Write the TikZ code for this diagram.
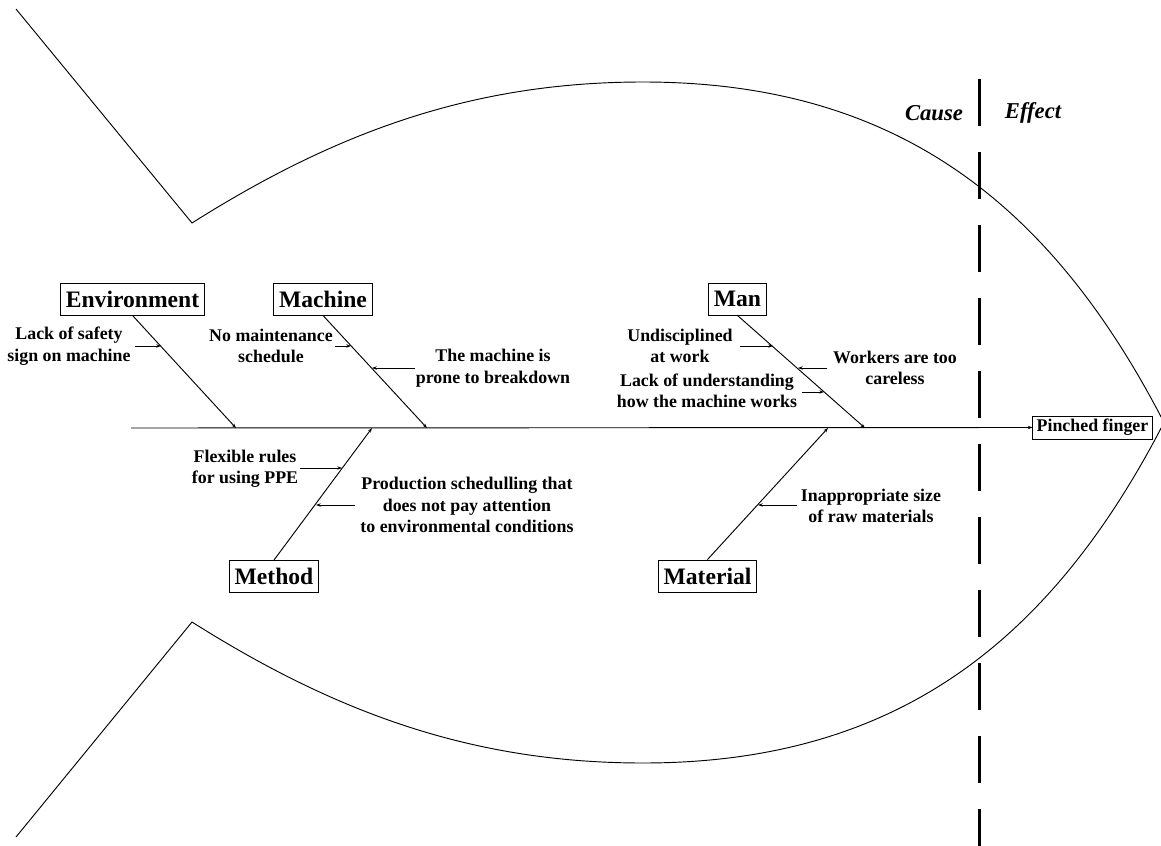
\documentclass[tikz,border=0pt]{standalone}
\usepackage{fontspec}
\setmainfont{Liberation Serif}
\usepackage{tikz}
\usetikzlibrary{arrows.meta}

\tikzset{
  bonebox/.style={draw,line width=0.7pt,font=\fontsize{17.7}{21}\selectfont\bfseries,inner xsep=4pt,inner ysep=0pt,minimum height=24pt},
  causetext/.style={align=center,inner sep=0pt,font=\fontsize{13.4}{16.1}\selectfont\bfseries},
  tick/.style={-{Stealth[length=3.5pt,width=2.5pt]}},
}

\begin{document}
\begin{tikzpicture}[x=0.75pt,y=-0.75pt,line width=0.7pt]
\path[use as bounding box] (0,0) rectangle (1161,846);
\coordinate (tailTop) at (16,9);
\coordinate (finTop) at (192,223);
\coordinate (fishTop) at (643,82);
\coordinate (nose) at (1164,422.5);
\coordinate (fishBot) at (643,763);
\coordinate (finBot) at (192,622);
\coordinate (tailBot) at (16,837);
\draw (tailTop) -- (finTop) .. controls (336,132) and (473,82) .. (fishTop) .. controls (893,82) and (1049,199.5) .. (nose);
\draw (tailBot) -- (finBot) .. controls (336,713) and (473,763) .. (fishBot) .. controls (893,763) and (1049,645.5) .. (nose);
\coordinate (divTop) at (979,79);
\coordinate (divBot) at (979,846);
\draw[line width=2.25pt,dash pattern=on 35.25pt off 19.5pt] (divTop) -- (divBot);
\node[font=\fontsize{17}{20}\selectfont\bfseries\itshape] (causeLbl) at (934,113) {Cause};
\node[font=\fontsize{17}{20}\selectfont\bfseries\itshape] (effectLbl) at (1033,113) {Effect};
\node[bonebox,font=\fontsize{13.4}{16}\selectfont\bfseries,inner xsep=2.8pt,minimum height=17.25pt] (effect) at (1092.5,427.5) {Pinched finger};
\coordinate (spineL) at (131,428);
\draw[tick] (spineL) -- (effect.west);
\node[bonebox] (env) at (132.5,299) {Environment};
\node[bonebox] (mach) at (323,299) {Machine};
\node[bonebox] (man) at (737.5,299) {Man};
\node[bonebox] (meth) at (274,576.5) {Method};
\node[bonebox] (mat) at (707.5,576) {Material};
\coordinate (envS) at (236,428);
\coordinate (machS) at (427,428);
\coordinate (manS) at (865,428);
\coordinate (methS) at (372,428);
\coordinate (matS) at (828,428);
\draw[tick] (env.south) -- (envS);
\draw[tick] (mach.south) -- (machS);
\draw[tick] (man.south) -- (manS);
\draw[tick] (meth.north) -- (methS);
\draw[tick] (mat.north) -- (matS);
\node[causetext] (safety) at (69,346) {Lack of safety\\sign on machine};
\node[causetext] (maint) at (271,346) {No maintenance\\schedule};
\node[causetext] (prone) at (493,368) {The machine is\\prone to breakdown};
\node[causetext] (undis) at (680,346) {Undisciplined\\at work};
\node[causetext] (careless) at (895,368) {Workers are too\\careless};
\node[causetext] (underst) at (707,391) {Lack of understanding\\how the machine works};
\node[causetext] (rules) at (245,469) {Flexible rules\\for using PPE};
\node[causetext] (sched) at (467,505) {Production schedulling that\\does not pay attention\\to environmental conditions};
\node[causetext] (rawmat) at (871,506) {Inappropriate size\\of raw materials};
\coordinate (safetyA) at (135,346);
\coordinate (safetyB) at (161,346);
\coordinate (maintA) at (335,346);
\coordinate (maintB) at (351,346);
\coordinate (proneA) at (415,368);
\coordinate (proneB) at (372,368);
\coordinate (undisA) at (740,346);
\coordinate (undisB) at (773,346);
\coordinate (carelessA) at (827,368);
\coordinate (carelessB) at (798,368);
\coordinate (understA) at (802,392);
\coordinate (understB) at (824,392);
\coordinate (rulesA) at (300,468);
\coordinate (rulesB) at (342,468);
\coordinate (schedA) at (355,505);
\coordinate (schedB) at (316,505);
\coordinate (rawmatA) at (797,505);
\coordinate (rawmatB) at (758,505);
\draw[tick] (safetyA) -- (safetyB);
\draw[tick] (maintA) -- (maintB);
\draw[tick] (proneA) -- (proneB);
\draw[tick] (undisA) -- (undisB);
\draw[tick] (carelessA) -- (carelessB);
\draw[tick] (understA) -- (understB);
\draw[tick] (rulesA) -- (rulesB);
\draw[tick] (schedA) -- (schedB);
\draw[tick] (rawmatA) -- (rawmatB);
\end{tikzpicture}
\end{document}
